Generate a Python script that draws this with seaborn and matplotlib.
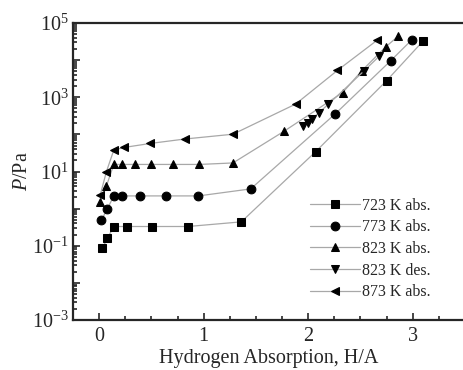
import matplotlib
matplotlib.use("Agg")
import matplotlib.pyplot as plt
from matplotlib.ticker import LogLocator, MultipleLocator, FixedLocator, NullFormatter
import pandas as pd
import seaborn as sns

# 723 K absorption
x_723_abs = [0.03, 0.08, 0.14, 0.27, 0.51, 0.85, 1.36, 2.07, 2.75, 3.10]
p_723_abs = [0.085, 0.16, 0.33, 0.33, 0.33, 0.33, 0.44, 34, 2800, 33000]

# 773 K absorption
x_773_abs = [0.02, 0.08, 0.14, 0.22, 0.39, 0.64, 0.95, 1.45, 2.26, 2.79, 2.99]
p_773_abs = [0.48, 1.0, 2.2, 2.2, 2.2, 2.2, 2.2, 3.4, 360, 9700, 35000]

# 823 K absorption
x_823_abs = [0.01, 0.07, 0.14, 0.22, 0.34, 0.50, 0.71, 0.96, 1.28, 1.77, 2.33, 2.51, 2.74, 2.86]
p_823_abs = [1.5, 4.1, 15.5, 15.5, 15.5, 15.5, 15.5, 15.5, 17, 122, 1340, 5100, 22600, 44000]

# 823 K desorption
x_823_des = [1.95, 2.00, 2.04, 2.10, 2.19, 2.53, 2.68]
p_823_des = [166, 205, 263, 380, 640, 5000, 12800]

# 873 K absorption
x_873_abs = [0.01, 0.07, 0.14, 0.24, 0.49, 0.82, 1.28, 1.88, 2.28, 2.66]
p_873_abs = [2.3, 10, 37.6, 44.5, 57, 75, 101, 656, 5300, 34500]

labels = ["723 K abs.", "773 K abs.", "823 K abs.", "823 K des.", "873 K abs."]
markers = ["s", "o", "^", "v", "<"]

frames = []
for lab, xs, ps in zip(labels,
                       [x_723_abs, x_773_abs, x_823_abs, x_823_des, x_873_abs],
                       [p_723_abs, p_773_abs, p_823_abs, p_823_des, p_873_abs]):
    frames.append(pd.DataFrame({"H/A": xs, "P": ps, "series": lab}))
df = pd.concat(frames, ignore_index=True)

sns.set_style("ticks")
plt.rcParams["font.family"] = ["Liberation Serif", "DejaVu Serif"]
plt.rcParams["mathtext.fontset"] = "custom"
plt.rcParams["mathtext.rm"] = "Liberation Serif"
plt.rcParams["mathtext.it"] = "Liberation Serif:italic"

fig = plt.figure(figsize=(4.64, 3.70), dpi=100)
ax = fig.add_axes([73 / 464, 50 / 370, 391 / 464, 297 / 370])

for lab, mk in zip(labels, markers):
    sub = df[df["series"] == lab]
    sns.lineplot(data=sub, x="H/A", y="P", sort=False, ax=ax, color="#a8a8a8",
                 linewidth=0.9, marker=mk, markersize=6.3, markerfacecolor="black",
                 markeredgecolor="black", label=lab, estimator=None)

ax.set_yscale("log")
ax.set_ylim(1e-3, 1e5)
ax.set_xlim(-0.25, 3.49)

ax.yaxis.set_major_locator(LogLocator(base=10, numticks=20))
ax.yaxis.set_minor_locator(LogLocator(base=10, subs=range(2, 10), numticks=50))
ax.yaxis.set_minor_formatter(NullFormatter())
ax.set_yticks([10.0 ** k for k in range(-3, 6)])
ax.set_yticklabels(["$10^{%d}$" % k if k % 2 else "" for k in range(-3, 6)])

ax.xaxis.set_major_locator(FixedLocator([0, 1, 2, 3]))
ax.xaxis.set_minor_locator(MultipleLocator(0.25))

ax.tick_params(which="both", direction="in", labelsize=14.5, width=1.2)
ax.tick_params(which="major", length=5)
ax.tick_params(which="minor", length=3)
ax.tick_params(axis="y", pad=3)
ax.tick_params(axis="x", pad=5)

for side in ["left", "bottom", "top"]:
    ax.spines[side].set_linewidth(1.6)
ax.spines["right"].set_visible(False)

ax.set_xlabel("Hydrogen Absorption, H/A", fontsize=14.5, labelpad=2)
ax.set_ylabel("$P$/Pa", fontsize=14.5, labelpad=0)

ax.legend(loc="lower left", bbox_to_anchor=(0.59, 0.045), frameon=False,
          fontsize=11.5, handlelength=3.1, handletextpad=0.15,
          labelspacing=0.35, borderaxespad=0)

fig.savefig("out.png", dpi=100)
